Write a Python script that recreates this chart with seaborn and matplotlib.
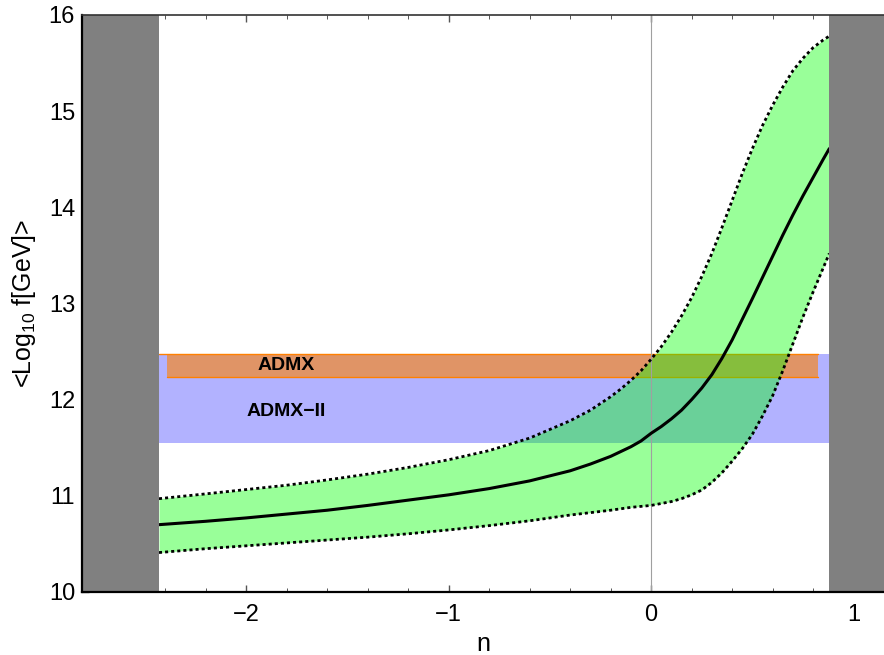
import numpy as np
import pandas as pd
import matplotlib
matplotlib.use('Agg')
import matplotlib.pyplot as plt
import seaborn as sns

# values
n_vals = [-2.43, -2.2, -2.0, -1.8, -1.6, -1.4, -1.2, -1.0, -0.8, -0.6, -0.4, -0.3,
          -0.2, -0.15, -0.1, -0.05, 0.0, 0.05, 0.1, 0.15, 0.2, 0.25, 0.3, 0.35, 0.4,
          0.45, 0.5, 0.55, 0.6, 0.65, 0.7, 0.75, 0.8, 0.85, 0.88]
f_mid = [10.70, 10.735, 10.77, 10.81, 10.85, 10.90, 10.955, 11.01, 11.075, 11.155, 11.26, 11.33,
         11.41, 11.46, 11.51, 11.57, 11.65, 11.72, 11.80, 11.89, 12.00, 12.12, 12.26, 12.43, 12.62,
         12.835, 13.05, 13.27, 13.49, 13.71, 13.92, 14.12, 14.31, 14.50, 14.61]
f_upper = [10.97, 11.02, 11.065, 11.11, 11.165, 11.225, 11.295, 11.375, 11.47, 11.60, 11.78, 11.89,
           12.03, 12.11, 12.20, 12.30, 12.42, 12.55, 12.70, 12.87, 13.06, 13.28, 13.52, 13.79, 14.07,
           14.35, 14.61, 14.85, 15.06, 15.25, 15.42, 15.55, 15.66, 15.74, 15.78]
f_lower = [10.41, 10.45, 10.48, 10.51, 10.54, 10.57, 10.605, 10.645, 10.69, 10.74, 10.80, 10.825,
           10.85, 10.865, 10.88, 10.89, 10.90, 10.92, 10.94, 10.97, 11.01, 11.06, 11.14, 11.24, 11.36,
           11.49, 11.64, 11.83, 12.04, 12.30, 12.58, 12.86, 13.12, 13.37, 13.52]

admx_n = [-2.39, 0.825]
admx_f = [12.24, 12.47]
admx2_n = [-2.43, 0.88]
admx2_f = [11.55, 12.47]
excluded_left = -2.43
excluded_right = 0.88
x_range = [-2.81, 1.15]
y_range = [10, 16]

df = pd.DataFrame({"n": n_vals, "mid": f_mid, "upper": f_upper, "lower": f_lower})

sns.set_theme(style="ticks")
plt.rcParams['font.family'] = ['Liberation Sans', 'DejaVu Sans']
plt.rcParams['mathtext.default'] = 'regular'
plt.rcParams['text.color'] = 'black'
plt.rcParams['axes.labelcolor'] = 'black'

fig = plt.figure(figsize=(8.84, 6.55), dpi=100)
ax = fig.add_axes([0.0928, 0.0962, 0.9072, 0.881])

# experimental boxes
ax.fill_between(admx2_n, admx2_f[0], admx2_f[1], color=(0, 0, 1), alpha=0.3, lw=0, zorder=1)
ax.fill_between(admx_n, admx_f[0], admx_f[1], facecolor=(1, 0.5, 0), alpha=0.6, lw=0, zorder=2)
ax.plot(admx_n, [admx_f[0]] * 2, color=(1, 0.5, 0), lw=1, zorder=2)
ax.plot([admx2_n[0], admx_n[1]], [admx_f[1]] * 2, color=(1, 0.5, 0), lw=1, zorder=2)
ax.text(-1.80, 12.36, "ADMX", fontsize=14, fontweight='bold', ha='center', va='center', zorder=6)
ax.text(-1.80, 11.88, "ADMX\u2212II", fontsize=14, fontweight='bold', ha='center', va='center', zorder=6)

# band and lines
ax.fill_between(df["n"], df["lower"], df["upper"], color=(0, 1, 0), alpha=0.4, lw=0, zorder=3)
sns.lineplot(data=df, x="n", y="mid", color="black", lw=2.2, ax=ax, zorder=5)
sns.lineplot(data=df, x="n", y="upper", color="black", lw=2.0, ax=ax, zorder=5)
sns.lineplot(data=df, x="n", y="lower", color="black", lw=2.0, ax=ax, zorder=5)
for line in ax.lines[-2:]:
    line.set_dashes((1.1, 1.1))

ax.axvline(0, color="#a0a0a0", lw=0.8, zorder=4)

# excluded regions
ax.axvspan(x_range[0], excluded_left, color="#808080", lw=0, zorder=7)
ax.axvspan(excluded_right, x_range[1], color="#808080", lw=0, zorder=7)

ax.set_xlim(x_range)
ax.set_ylim(y_range)
ax.set_xticks([-2, -1, 0, 1])
ax.set_yticks(range(10, 17))
ax.set_xticks(np.arange(-2.8, 1.2, 0.2), minor=True)
ax.set_yticks(np.arange(10, 16.01, 0.2), minor=True)
ax.tick_params(which='both', direction='in', top=True, color='#555555',
               labelcolor='black', labelsize=17)
ax.tick_params(which='major', length=5, width=1)
ax.tick_params(which='minor', length=3, width=0.7)
ax.tick_params(axis='x', pad=9)
ax.tick_params(axis='y', pad=5)
for s in ['left', 'bottom']:
    ax.spines[s].set_linewidth(1.6)
    ax.spines[s].set_color('black')
ax.spines['top'].set_linewidth(1.2)
ax.spines['top'].set_color('#333333')
ax.spines['right'].set_visible(False)
for sp in ax.spines.values():
    sp.set_zorder(8)

ax.set_xlabel("n", fontsize=18, labelpad=4)
ax.set_ylabel("<Log$_{10}$ f[GeV]>", fontsize=18, labelpad=8)

fig.savefig("out.png", dpi=100)
